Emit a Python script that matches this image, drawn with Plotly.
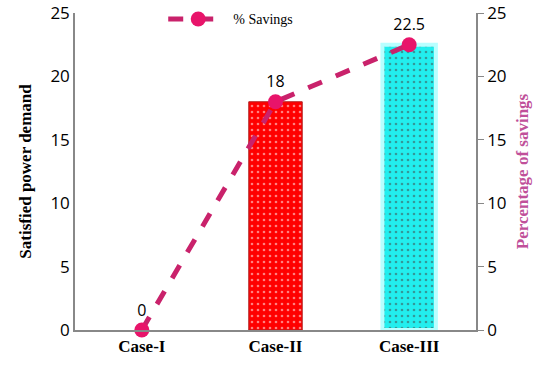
import plotly.graph_objects as go

cases = ["Case-I", "Case-II", "Case-III"]
demand = [0, 18, 22.5]
savings = [0, 18, 22.5]
labels = ["0", "18", "22.5"]

fig = go.Figure()

# bars for satisfied demand (dotted fill)
fig.add_trace(go.Bar(
    x=cases, y=demand, width=0.4, showlegend=False,
    marker=dict(
        color=["red", "red", "#22eeee"],
        line=dict(color=["red", "#b22222", "#b8ffff"], width=[0, 1, 4]),
        pattern=dict(shape=".", fgcolor="white", size=6, solidity=0.15),
    ),
))

# savings line on second axis
fig.add_trace(go.Scatter(
    x=cases, y=savings, yaxis="y2", name="% Savings",
    mode="lines+markers+text", text=labels, textposition="top center",
    textfont=dict(family="Open Sans", size=16, color="black"),
    line=dict(color="#c9226b", width=5, dash="dash"),
    marker=dict(color="#e8146a", size=15),
    cliponaxis=False,
))

fig.update_layout(
    width=550, height=371,
    margin=dict(l=75, r=74, t=13, b=41, autoexpand=False),
    plot_bgcolor="white", paper_bgcolor="white",
    bargap=0.6,
    xaxis=dict(
        showline=True, linecolor="#888", linewidth=1.5,
        tickfont=dict(family="Liberation Serif", size=17, color="black", weight="bold"),
        ticks="",
    ),
    yaxis=dict(
        range=[0, 25], dtick=5, showgrid=False, ticklabeloverflow="allow",
        showline=True, linecolor="#888", linewidth=1.5,
        tickfont=dict(family="Open Sans", size=17, color="black"),
        title=dict(text="Satisfied power demand", standoff=14,
                   font=dict(family="Liberation Serif", size=17, color="black", weight="bold")),
    ),
    yaxis2=dict(
        range=[0, 25], dtick=5, overlaying="y", side="right", showgrid=False,
        ticklabeloverflow="allow",
        showline=True, linecolor="#888", linewidth=1.5,
        ticks="outside", ticklen=6, tickcolor="#888",
        tickfont=dict(family="Open Sans", size=17, color="black"),
        title=dict(text="Percentage of savings", standoff=10,
                   font=dict(family="Liberation Serif", size=17, color="#c0509a", weight="bold")),
    ),
    legend=dict(
        x=0.22, y=0.98, xanchor="left", yanchor="middle", itemwidth=60,
        font=dict(family="Liberation Serif", size=14, color="black"),
        bgcolor="rgba(0,0,0,0)",
    ),
)

# drop the default page margin so the figure sits at the top-left corner
fig.write_html("out.html", config={"displayModeBar": False},
               post_script="document.body.style.margin='0';")
